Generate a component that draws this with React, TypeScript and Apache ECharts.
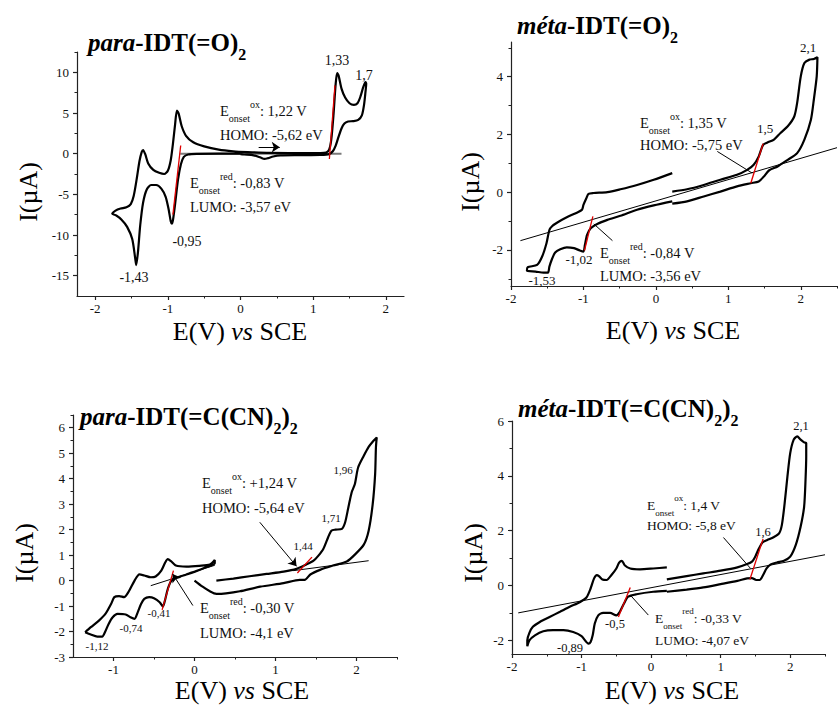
import React, { useEffect, useRef } from "react";
import * as echarts from "echarts";

type Pt = [number, number];

const FONT = "'Liberation Serif', 'Times New Roman', serif";
const INK = "#111";

// ---------------- Panel A : para-IDT(=O)2 ----------------
const paraOxoCurve: Pt[] = [
  [0.0, 0.0], [-0.3, 0.0], [-0.6, -0.02], [-0.72, -0.1], [-0.78, -0.4], [-0.82, -1.3], [-0.86, -3.2], [-0.9, -6.2],
  [-0.93, -8.2], [-0.945, -8.6], [-0.96, -8.3], [-0.99, -6.8], [-1.03, -5.3], [-1.09, -4.3], [-1.16, -3.85],
  [-1.23, -3.85], [-1.29, -4.4], [-1.34, -6.0], [-1.38, -8.8], [-1.41, -12.0], [-1.435, -13.7], [-1.45, -12.8],
  [-1.49, -10.5], [-1.56, -9.0], [-1.64, -8.1], [-1.71, -7.6], [-1.765, -7.4],
  [-1.72, -7.0], [-1.65, -6.75], [-1.57, -6.6], [-1.51, -6.2], [-1.47, -5.2], [-1.43, -3.2], [-1.39, -0.9],
  [-1.36, 0.2], [-1.34, 0.45], [-1.31, -0.1], [-1.27, -1.2], [-1.2, -2.0], [-1.12, -2.35], [-1.05, -2.5],
  [-1.0, -2.1], [-0.96, -0.8], [-0.93, 1.2], [-0.9, 3.6], [-0.875, 5.3], [-0.85, 4.9], [-0.81, 3.4],
  [-0.75, 2.2], [-0.65, 1.4], [-0.5, 0.9], [-0.3, 0.5], [-0.1, 0.3], [0.1, 0.2], [0.4, 0.1], [0.8, 0.08],
  [1.1, 0.08], [1.18, 0.15], [1.22, 0.5], [1.25, 1.8], [1.28, 4.8], [1.31, 8.6], [1.33, 9.9], [1.35, 9.6],
  [1.39, 8.0], [1.44, 6.9], [1.5, 6.2], [1.56, 6.0], [1.61, 6.2], [1.65, 7.0], [1.69, 8.2], [1.72, 8.8],
  [1.73, 8.6], [1.72, 7.6], [1.7, 6.0], [1.67, 4.7], [1.62, 4.15], [1.55, 4.0], [1.48, 3.95], [1.43, 3.7],
  [1.39, 3.1], [1.35, 2.1], [1.31, 1.0], [1.27, 0.3], [1.22, -0.05], [1.1, -0.15], [0.8, -0.18],
  [0.55, -0.22], [0.45, -0.35], [0.38, -0.55], [0.33, -0.65], [0.27, -0.45], [0.18, -0.2], [0.05, -0.1], [0.0, -0.05],
];
const paraOxoBaseline: Pt[] = [[-0.83, 0], [1.39, 0]];
const paraOxoRedOnset: Pt[] = [[-0.93, -7.5], [-0.823, 1.0]];
const paraOxoOxOnset: Pt[] = [[1.223, -0.66], [1.3, 8.4]];
const paraOxoScanArrow: Pt[] = [[0.25, 0.8], [0.54, 0.8]];
const paraOxoXRange: Pt = [-2.25, 2.25];
const paraOxoYRange: Pt = [-17.5, 12.5];
const paraOxoXTicks = [-2, -1, 0, 1, 2];
const paraOxoXMinor = [-1.5, -0.5, 0.5, 1.5];
const paraOxoYTicks = [-15, -10, -5, 0, 5, 10];
const paraOxoYMinor = [-12.5, -7.5, -2.5, 2.5, 7.5, 12.5];

// ---------------- Panel B : méta-IDT(=O)2 ----------------
const metaOxoRedScan: Pt[] = [
  [0.226, -0.32], [-0.03, -0.46], [-0.26, -0.61], [-0.49, -0.82], [-0.67, -0.96], [-0.81, -1.1], [-0.9, -1.25],
  [-0.95, -1.48], [-0.98, -1.83], [-1.0, -2.06], [-1.05, -2.02], [-1.13, -1.94], [-1.23, -1.91], [-1.32, -1.98],
  [-1.39, -2.09], [-1.43, -2.29], [-1.47, -2.58], [-1.49, -2.79], [-1.55, -2.79], [-1.66, -2.75], [-1.78, -2.72],
  [-1.77, -2.6], [-1.64, -2.52], [-1.57, -2.23], [-1.51, -1.77], [-1.47, -1.31], [-1.43, -1.17], [-1.36, -1.05],
  [-1.23, -0.87], [-1.09, -0.71], [-1.02, -0.61], [-1.0, -0.44], [-0.96, -0.21], [-0.93, -0.06], [-0.86, -0.03],
  [-0.67, 0.0], [-0.49, 0.1], [-0.26, 0.25], [-0.03, 0.43], [0.226, 0.66],
];
const metaOxoOxScan: Pt[] = [
  [0.226, 0.02], [0.43, 0.1], [0.66, 0.25], [0.89, 0.43], [1.12, 0.6], [1.26, 0.77], [1.35, 0.95], [1.42, 1.24],
  [1.48, 1.64], [1.54, 1.72], [1.63, 1.82], [1.72, 2.05], [1.82, 2.28], [1.91, 2.62], [1.95, 3.09], [2.0, 4.01],
  [2.05, 4.47], [2.12, 4.59], [2.18, 4.61], [2.23, 4.67], [2.22, 4.01], [2.18, 3.2], [2.14, 2.51], [2.05, 1.82],
  [1.95, 1.35], [1.82, 1.12], [1.68, 0.89], [1.56, 0.75], [1.49, 0.54], [1.42, 0.37], [1.31, 0.31], [1.12, 0.2],
  [0.89, 0.02], [0.66, -0.15], [0.43, -0.32], [0.226, -0.4],
];
const metaOxoBaseline: Pt[] = [[-1.87, -1.68], [2.5, 1.54]];
const metaOxoRedOnset: Pt[] = [[-0.986, -2.02], [-0.87, -0.84]];
const metaOxoOxOnset: Pt[] = [[1.31, 0.31], [1.48, 1.68]];
const metaOxoHomoPointer: Pt[] = [[0.848, 1.41], [1.33, 0.66]];
const metaOxoLumoPointer: Pt[] = [[-0.6, -1.68], [-0.857, -1.1]];
const metaOxoXRange: Pt = [-2, 2.5];
const metaOxoYRange: Pt = [-3.25, 5.2];
const metaOxoXTicks = [-2, -1, 0, 1, 2];
const metaOxoXMinor = [-1.5, -0.5, 0.5, 1.5, 2.5];
const metaOxoYTicks = [-2, 0, 2, 4];
const metaOxoYMinor = [-3, -1, 1, 3, 5];

// ---------------- Panel C : para-IDT(=C(CN)2)2 ----------------
const paraDcvRedScan: Pt[] = [
  [-1.35, -2.03], [-1.28, -1.83], [-1.18, -1.57], [-1.1, -1.31], [-1.03, -0.92], [-0.99, -0.65], [-0.93, -0.61],
  [-0.87, -0.65], [-0.81, -0.42], [-0.74, 0.0], [-0.68, 0.24], [-0.62, 0.2], [-0.54, 0.13], [-0.48, 0.16],
  [-0.41, 0.39], [-0.36, 0.72], [-0.33, 0.84], [-0.29, 0.76], [-0.23, 0.59], [-0.1, 0.55], [0.06, 0.58],
  [0.19, 0.63], [0.25, 0.81], [0.25, 0.68], [0.14, 0.52], [0.02, 0.37], [-0.1, 0.24], [-0.23, 0.1], [-0.29, -0.03],
  [-0.33, -0.33], [-0.36, -0.72], [-0.39, -1.02], [-0.43, -0.85], [-0.5, -0.69], [-0.56, -0.65], [-0.62, -0.72],
  [-0.66, -0.92], [-0.7, -1.24], [-0.74, -1.5], [-0.79, -1.44], [-0.85, -1.33], [-0.95, -1.31], [-1.01, -1.44],
  [-1.06, -1.7], [-1.1, -1.99], [-1.14, -2.2], [-1.2, -2.2], [-1.28, -2.12], [-1.35, -2.03],
];
const paraDcvOxScan: Pt[] = [
  [0.0, 0.0], [0.1, -0.24], [0.19, -0.42], [0.27, -0.52], [0.39, -0.5], [0.56, -0.42], [0.81, -0.24], [1.1, -0.1],
  [1.3, 0.03], [1.36, 0.03], [1.43, 0.24], [1.55, 0.42], [1.71, 0.59], [1.88, 0.75], [1.98, 1.02], [2.09, 1.41],
  [2.15, 1.96], [2.2, 3.0], [2.23, 4.18], [2.24, 5.23], [2.25, 5.62], [2.21, 5.49], [2.15, 5.25], [2.09, 4.9],
  [2.02, 4.44], [1.98, 3.79], [1.94, 3.46], [1.9, 2.88], [1.86, 2.29], [1.82, 2.03], [1.74, 2.0], [1.69, 1.96],
  [1.65, 1.7], [1.59, 1.24], [1.53, 0.98], [1.47, 0.78], [1.38, 0.63], [1.26, 0.46], [1.1, 0.35], [0.89, 0.26],
  [0.68, 0.17], [0.48, 0.08], [0.27, 0.0],
];
const paraDcvRedBaseline: Pt[] = [[-0.54, -0.2], [0.25, 0.6]];
const paraDcvOxBaseline: Pt[] = [[1.22, 0.39], [2.15, 0.78]];
const paraDcvRedOnset: Pt[] = [[-0.4, -1.15], [-0.26, 0.39]];
const paraDcvOxOnset: Pt[] = [[1.27, 0.3], [1.45, 0.92]];
const paraDcvHomoArrow: Pt[] = [[0.806, 2.29], [1.26, 0.56]];
const paraDcvLumoArrow: Pt[] = [[-0.02, -0.98], [-0.27, 0.26]];
const paraDcvXRange: Pt = [-1.5, 2.5];
const paraDcvYRange: Pt = [-3, 6.5];
const paraDcvXTicks = [-1, 0, 1, 2];
const paraDcvXMinor = [-0.5, 0.5, 1.5, 2.5];
const paraDcvYTicks = [-3, -2, -1, 0, 1, 2, 3, 4, 5, 6];
const paraDcvYMinor = [-2.5, -1.5, -0.5, 0.5, 1.5, 2.5, 3.5, 4.5, 5.5, 6.5];

// ---------------- Panel D : méta-IDT(=C(CN)2)2 ----------------
const metaDcvRedScan: Pt[] = [
  [0.226, 0.66], [0.03, 0.62], [-0.16, 0.59], [-0.3, 0.62], [-0.38, 0.74], [-0.42, 0.9], [-0.46, 0.83], [-0.5, 0.62],
  [-0.57, 0.38], [-0.64, 0.2], [-0.7, 0.22], [-0.75, 0.34], [-0.78, 0.38], [-0.82, 0.26], [-0.87, -0.11],
  [-0.93, -0.44], [-1.02, -0.6], [-1.17, -0.78], [-1.31, -0.96], [-1.46, -1.15], [-1.6, -1.33], [-1.7, -1.51],
  [-1.75, -1.73], [-1.78, -2.0], [-1.78, -2.22], [-1.75, -2.0], [-1.67, -1.82], [-1.55, -1.67], [-1.41, -1.63],
  [-1.26, -1.63], [-1.12, -1.7], [-1.0, -1.85], [-0.9, -2.12], [-0.87, -2.06], [-0.84, -1.82], [-0.81, -1.39],
  [-0.76, -1.09], [-0.69, -1.0], [-0.59, -1.0], [-0.5, -1.09], [-0.45, -0.96], [-0.39, -0.66], [-0.33, -0.41],
  [-0.21, -0.32], [0.03, -0.23], [0.226, -0.2],
];
const metaDcvOxScan: Pt[] = [
  [0.226, 0.22], [0.51, 0.34], [0.75, 0.44], [1.0, 0.54], [1.24, 0.66], [1.38, 0.78], [1.45, 0.87], [1.5, 1.07],
  [1.55, 1.35], [1.6, 1.57], [1.67, 1.66], [1.76, 1.76], [1.84, 1.9], [1.88, 2.21], [1.92, 3.0], [1.96, 3.98],
  [2.0, 4.83], [2.05, 5.32], [2.1, 5.44], [2.15, 5.32], [2.2, 5.22], [2.23, 5.2], [2.23, 4.71], [2.22, 3.85],
  [2.2, 2.88], [2.15, 2.15], [2.08, 1.48], [2.0, 1.05], [1.91, 0.9], [1.81, 0.84], [1.72, 0.77], [1.66, 0.62],
  [1.61, 0.38], [1.56, 0.2], [1.51, 0.2], [1.45, 0.27], [1.38, 0.26], [1.24, 0.17], [1.0, 0.05], [0.75, -0.07],
  [0.51, -0.15], [0.226, -0.23],
];
const metaDcvBaseline: Pt[] = [[-1.91, -1.0], [2.5, 1.12]];
const metaDcvRedOnset: Pt[] = [[-0.47, -1.15], [-0.3, -0.07]];
const metaDcvOxOnset: Pt[] = [[1.42, 0.22], [1.61, 1.7]];
const metaDcvHomoPointer: Pt[] = [[1.04, 1.75], [1.43, 0.62]];
const metaDcvLumoPointer: Pt[] = [[-0.04, -1.08], [-0.3, -0.35]];
const metaDcvXRange: Pt = [-2, 2.5];
const metaDcvYRange: Pt = [-2.5, 6];
const metaDcvXTicks = [-2, -1, 0, 1, 2];
const metaDcvXMinor = [-1.5, -0.5, 0.5, 1.5, 2.5];
const metaDcvYTicks = [-2, 0, 2, 4, 6];
const metaDcvYMinor = [-1, 1, 3, 5];

// ---------------- texts ----------------
const xTitleParts = ["E(V) ", "vs", " SCE"];
const yTitle = "I(µA)";
const fmt = (v: number) => String(v);

// layout of the four plot areas (pixels)
const grids = [
  { left: 77, top: 52, width: 327, height: 244 },
  { left: 511, top: 42, width: 326, height: 244 },
  { left: 73, top: 415, width: 324, height: 242 },
  { left: 512, top: 421, width: 313, height: 233 },
];

function axesFor(
  gi: number,
  xr: Pt, yr: Pt,
  xt: number[], xm: number[], yt: number[], ym: number[]
) {
  const base = {
    gridIndex: gi,
    type: "value" as const,
    splitLine: { show: false },
    axisLine: { show: true, onZero: false, lineStyle: { color: "#222", width: 1.2 } },
  };
  const xMain = {
    ...base, min: xr[0], max: xr[1], position: "bottom",
    axisTick: { show: true, length: 4, customValues: xt, lineStyle: { color: "#222", width: 1.2 } },
    axisLabel: { show: true, customValues: xt, margin: 6, color: INK, fontFamily: FONT, fontSize: 13, formatter: fmt },
  };
  const xMinor = {
    ...base, min: xr[0], max: xr[1], position: "bottom",
    axisLine: { show: false, onZero: false },
    axisTick: { show: true, length: 2.5, customValues: xm, lineStyle: { color: "#222", width: 1 } },
    axisLabel: { show: false },
  };
  const yMain = {
    ...base, min: yr[0], max: yr[1], position: "left",
    axisTick: { show: true, length: 4, customValues: yt, lineStyle: { color: "#222", width: 1.2 } },
    axisLabel: { show: true, customValues: yt, margin: 8, color: INK, fontFamily: FONT, fontSize: 13, formatter: fmt },
  };
  const yMinor = {
    ...base, min: yr[0], max: yr[1], position: "left",
    axisLine: { show: false, onZero: false },
    axisTick: { show: true, length: 2.5, customValues: ym, lineStyle: { color: "#222", width: 1 } },
    axisLabel: { show: false },
  };
  return { x: [xMain, xMinor], y: [yMain, yMinor] };
}

function line(gi: number, data: Pt[], color: string, width: number, smooth = 0, extra: any = {}) {
  return {
    type: "line",
    xAxisIndex: gi * 2,
    yAxisIndex: gi * 2,
    data,
    showSymbol: false,
    symbol: "none",
    smooth,
    silent: true,
    lineStyle: { color, width },
    ...extra,
  };
}

function arrowMark(segs: Pt[][], withHead: boolean) {
  return {
    markLine: {
      silent: true,
      symbol: withHead ? ["none", "arrow"] : ["none", "none"],
      symbolSize: 8,
      lineStyle: { color: "#000", width: 1, type: "solid" },
      label: { show: false },
      emphasis: { disabled: true },
      data: segs.map((s) => [{ coord: s[0] }, { coord: s[1] }]),
    },
  };
}

const CURVE_W = 2.2;
const SMOOTH = 0.25;

function richOnset(size: number) {
  const sub = Math.round(size * 0.66);
  return {
    m: { fontFamily: FONT, fontSize: size, lineHeight: 24, fill: INK, color: INK },
    sub: { fontFamily: FONT, fontSize: sub, lineHeight: sub, verticalAlign: "bottom", fill: INK, color: INK },
    sup: { fontFamily: FONT, fontSize: sub, lineHeight: sub, verticalAlign: "top", fill: INK, color: INK },
  };
}

function onsetText(x: number, y: number, kind: string, value: string, size: number) {
  return {
    type: "text", x, y, silent: true,
    style: {
      text: `{m|E}{sub|onset}{sup|${kind}}{m|: ${value}}`,
      rich: richOnset(size),
      align: "left", verticalAlign: "middle", textAlign: "left", textVerticalAlign: "middle",
    },
  };
}

function plainText(x: number, y: number, text: string, size: number, align = "left") {
  return {
    type: "text", x, y, silent: true,
    style: {
      text, fill: INK, font: `${size}px ${FONT}`,
      align, verticalAlign: "middle", textAlign: align, textVerticalAlign: "middle",
    },
  };
}

function titleText(x: number, y: number, italicPart: string, parts: string[]) {
  // parts alternate: bold text, subscript, bold text, subscript...
  let text = `{i|${italicPart}}`;
  parts.forEach((p, i) => {
    text += i % 2 === 0 ? `{b|${p}}` : `{s|${p}}`;
  });
  return {
    type: "text", x, y, silent: true,
    style: {
      text,
      rich: {
        i: { fontFamily: FONT, fontSize: 25, fontWeight: "bold", fontStyle: "italic", lineHeight: 40, fill: "#000", color: "#000" },
        b: { fontFamily: FONT, fontSize: 25, fontWeight: "bold", lineHeight: 40, fill: "#000", color: "#000" },
        s: { fontFamily: FONT, fontSize: 16, fontWeight: "bold", lineHeight: 16, verticalAlign: "bottom", fill: "#000", color: "#000" },
      },
      align: "left", verticalAlign: "middle", textAlign: "left", textVerticalAlign: "middle",
    },
  };
}

function xTitle(cx: number, cy: number) {
  return {
    type: "text", x: cx, y: cy, silent: true,
    style: {
      text: `{r|${xTitleParts[0]}}{it|${xTitleParts[1]}}{r|${xTitleParts[2]}}`,
      rich: {
        r: { fontFamily: FONT, fontSize: 26, lineHeight: 22, fill: "#000", color: "#000" },
        it: { fontFamily: FONT, fontSize: 26, lineHeight: 22, fontStyle: "italic", fill: "#000", color: "#000" },
      },
      align: "center", verticalAlign: "middle", textAlign: "center", textVerticalAlign: "middle",
    },
  };
}

function yTitleEl(cx: number, cy: number) {
  return {
    type: "text", x: cx, y: cy, rotation: Math.PI / 2, silent: true,
    style: {
      text: yTitle, fill: "#000", font: `26px ${FONT}`,
      align: "center", verticalAlign: "middle", textAlign: "center", textVerticalAlign: "middle",
    },
  };
}

export default function App() {
  const ref = useRef<HTMLDivElement>(null);

  useEffect(() => {
    document.body.style.margin = "0";
    if (!ref.current) return;
    const chart = echarts.init(ref.current, undefined, { renderer: "svg" });

    const a0 = axesFor(0, paraOxoXRange, paraOxoYRange, paraOxoXTicks, paraOxoXMinor, paraOxoYTicks, paraOxoYMinor);
    const a1 = axesFor(1, metaOxoXRange, metaOxoYRange, metaOxoXTicks, metaOxoXMinor, metaOxoYTicks, metaOxoYMinor);
    const a2 = axesFor(2, paraDcvXRange, paraDcvYRange, paraDcvXTicks, paraDcvXMinor, paraDcvYTicks, paraDcvYMinor);
    const a3 = axesFor(3, metaDcvXRange, metaDcvYRange, metaDcvXTicks, metaDcvXMinor, metaDcvYTicks, metaDcvYMinor);

    const option: any = {
      animation: false,
      backgroundColor: "#fff",
      grid: grids.map((g) => ({ ...g, containLabel: false, outerBoundsMode: "none" })),
      xAxis: [...a0.x, ...a1.x, ...a2.x, ...a3.x],
      yAxis: [...a0.y, ...a1.y, ...a2.y, ...a3.y],
      series: [
        // Panel A
        line(0, paraOxoBaseline, "#7a7a7a", 2, 0, arrowMark([paraOxoScanArrow], true)),
        line(0, paraOxoCurve, "#000", CURVE_W, SMOOTH),
        line(0, paraOxoRedOnset, "#e00000", 1.3),
        line(0, paraOxoOxOnset, "#e00000", 1.3),
        // Panel B
        line(1, metaOxoBaseline, "#000", 1, 0, arrowMark([metaOxoHomoPointer, metaOxoLumoPointer], false)),
        line(1, metaOxoRedScan, "#000", CURVE_W, SMOOTH),
        line(1, metaOxoOxScan, "#000", CURVE_W, SMOOTH),
        line(1, metaOxoRedOnset, "#e00000", 1.3),
        line(1, metaOxoOxOnset, "#e00000", 1.3),
        // Panel C
        line(2, paraDcvRedBaseline, "#000", 1, 0, arrowMark([paraDcvHomoArrow, paraDcvLumoArrow], true)),
        line(2, paraDcvOxBaseline, "#000", 1),
        line(2, paraDcvRedScan, "#000", CURVE_W, SMOOTH),
        line(2, paraDcvOxScan, "#000", CURVE_W, SMOOTH),
        line(2, paraDcvRedOnset, "#e00000", 1.3),
        line(2, paraDcvOxOnset, "#e00000", 1.3),
        // Panel D
        line(3, metaDcvBaseline, "#000", 1, 0, arrowMark([metaDcvHomoPointer, metaDcvLumoPointer], false)),
        line(3, metaDcvRedScan, "#000", CURVE_W, SMOOTH),
        line(3, metaDcvOxScan, "#000", CURVE_W, SMOOTH),
        line(3, metaDcvRedOnset, "#e00000", 1.3),
        line(3, metaDcvOxOnset, "#e00000", 1.3),
      ],
      graphic: [
        // Panel A texts
        titleText(88, 42, "para", ["-IDT(=O)", "2"]),
        plainText(337, 60, "1,33", 14, "center"),
        plainText(364, 75, "1,7", 14, "center"),
        onsetText(220, 111, "ox", "1,22 V", 14.5),
        plainText(220, 135, "HOMO: -5,62 eV", 14.5),
        onsetText(190, 183, "red", "-0,83 V", 14.5),
        plainText(190, 207, "LUMO: -3,57 eV", 14.5),
        plainText(187, 241, "-0,95", 14, "center"),
        plainText(134, 277, "-1,43", 14, "center"),
        yTitleEl(28, 192),
        xTitle(240, 331),
        // Panel B texts
        titleText(517, 25, "méta", ["-IDT(=O)", "2"]),
        onsetText(640, 123, "ox", "1,35 V", 14.5),
        plainText(640, 145, "HOMO: -5,75 eV", 14.5),
        plainText(765, 128, "1,5", 13, "center"),
        plainText(808, 47, "2,1", 13, "center"),
        onsetText(600, 253, "red", "-0,84 V", 14.5),
        plainText(600, 276, "LUMO: -3,56 eV", 14.5),
        plainText(579, 259, "-1,02", 13, "center"),
        plainText(542, 280, "-1,53", 13, "center"),
        yTitleEl(470, 182),
        xTitle(673, 330),
        // Panel C texts
        titleText(80, 416, "para", ["-IDT(=C(CN)", "2", ")", "2"]),
        onsetText(202, 483, "ox", "+1,24 V", 14.5),
        plainText(202, 508, "HOMO: -5,64 eV", 14.5),
        plainText(343, 470, "1,96", 11, "center"),
        plainText(331, 518, "1,71", 11, "center"),
        plainText(303, 546, "1,44", 11, "center"),
        onsetText(200, 608, "red", "-0,30 V", 14.5),
        plainText(200, 633, "LUMO: -4,1 eV", 14.5),
        plainText(159, 613, "-0,41", 11, "center"),
        plainText(131, 628, "-0,74", 11, "center"),
        plainText(97, 646, "-1,12", 11, "center"),
        yTitleEl(24, 553),
        xTitle(242, 690),
        // Panel D texts
        titleText(518, 408, "méta", ["-IDT(=C(CN)", "2", ")", "2"]),
        onsetText(647, 505, "ox", "1,4 V", 13.5),
        plainText(647, 525, "HOMO: -5,8 eV", 13.5),
        plainText(763, 532, "1,6", 12.5, "center"),
        plainText(801, 426, "2,1", 12.5, "center"),
        onsetText(655, 618, "red", "-0,33 V", 13.5),
        plainText(655, 640, "LUMO: -4,07 eV", 13.5),
        plainText(615, 624, "-0,5", 12.5, "center"),
        plainText(570, 648, "-0,89", 12.5, "center"),
        yTitleEl(473, 553),
        xTitle(672, 690),
      ],
    };

    chart.setOption(option);
    return () => chart.dispose();
  }, []);

  return (
    <div
      ref={ref}
      style={{ position: "absolute", left: 0, top: 0, width: 840, height: 706, background: "#fff" }}
    />
  );
}
